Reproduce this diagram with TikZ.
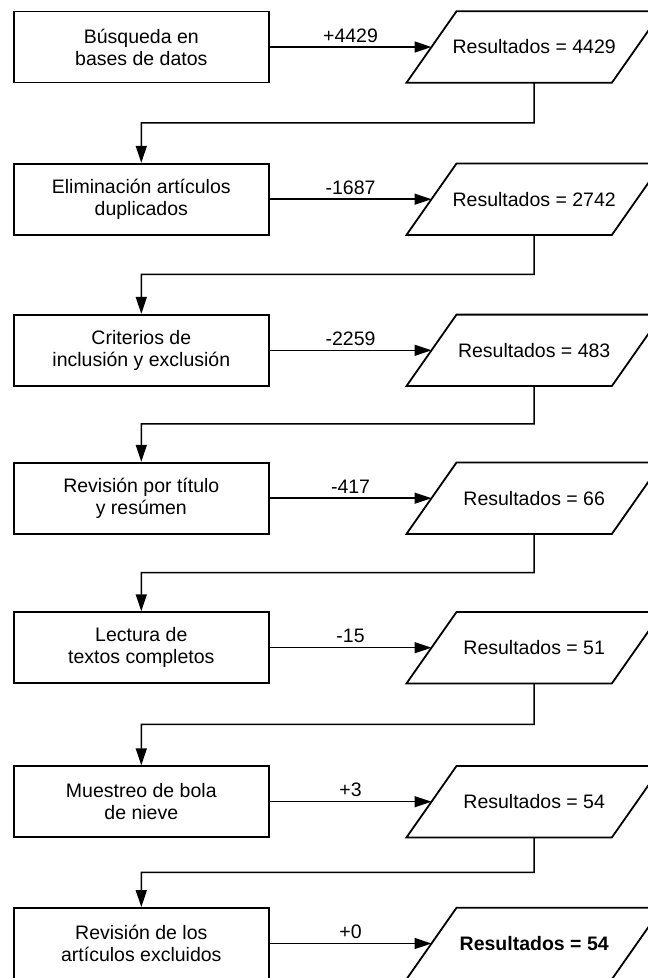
\documentclass[tikz,border=0pt]{standalone}
\usepackage{fontspec}
\setmainfont{Liberation Sans}
\usetikzlibrary{arrows.meta,calc}
\begin{document}
\begin{tikzpicture}[x=1pt,y=-1pt,
  font=\fontsize{19.5}{22}\selectfont,
  stepbox/.style={draw, line width=1.8pt, minimum width=254.7pt,
    minimum height=71pt, align=center, inner sep=0pt},
  resbox/.style={minimum width=205pt, minimum height=71pt, inner sep=0pt},
  outline/.style={line width=1.8pt, line join=miter},
  flow/.style={line width=1.5pt, -{Triangle[length=17pt,width=11pt]}},
  count/.style={midway, above, inner sep=0pt, yshift=4pt},
]
\useasboundingbox (0,0) rectangle (648,978);
\clip (0,0) rectangle (648,978);

% one row per stage: process box, result parallelogram, count on the arrow
\foreach \i/\yc/\stagetext/\restext/\delta in {
  1/47/{Búsqueda en\\bases de datos}/{Resultados = 4429}/{+4429},
  2/199.2/{Eliminación artículos\\duplicados}/{Resultados = 2742}/{-1687},
  3/350.3/{Criterios de\\inclusión y exclusión}/{Resultados = 483}/{-2259},
  4/498.2/{Revisión por título\\y resúmen}/{Resultados = 66}/{-417},
  5/647.7/{Lectura de\\textos completos}/{Resultados = 51}/{-15},
  6/801.7/{Muestreo de bola\\de nieve}/{Resultados = 54}/{+3},
  7/943.5/{Revisión de los\\artículos excluidos}/{\textbf{Resultados = 54}}/{+0}} {
  \node[stepbox] (b\i) at (141.3,\yc) {\stagetext};
  \node[resbox] (r\i) at (534.2,\yc) {\restext};
  \draw[outline] ([xshift=-25pt]r\i.south west) -- ([xshift=-25pt]r\i.south east)
    -- ([xshift=25pt]r\i.north east) -- ([xshift=25pt]r\i.north west) -- cycle;
  \draw[flow] (b\i.east) -- node[count] {\delta} (r\i.west);
}

% link each result down to the next stage
\foreach \i in {1,...,6} {
  \pgfmathtruncatemacro\j{\i+1}
  \draw[flow] (r\i.south)
    -- ($(r\i.south)!0.5!(r\i.south |- b\j.north)$) -| (b\j.north);
}
\end{tikzpicture}
\end{document}
